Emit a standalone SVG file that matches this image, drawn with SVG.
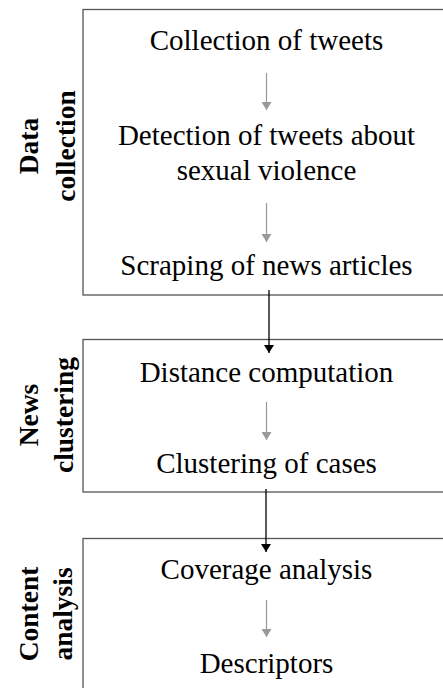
<svg xmlns="http://www.w3.org/2000/svg" width="443" height="688" viewBox="0 0 443 688">
<style>
.box{fill:#fff;stroke:#555;stroke-width:1.3}
.t{font-family:"Times New Roman","Liberation Serif","DejaVu Serif",serif;font-size:29px;font-weight:normal;fill:#000;text-anchor:middle}
.s{font-family:"Times New Roman","Liberation Serif","DejaVu Serif",serif;font-size:27.5px;font-weight:bold;fill:#000;text-anchor:middle}
.g{stroke:#999;stroke-width:1.2;fill:none}
.k{stroke:#000;stroke-width:1.3;fill:none}
</style>
<defs>
<marker id="ag" viewBox="0 0 8 10" refX="8" refY="5" markerWidth="8" markerHeight="10" markerUnits="userSpaceOnUse" orient="auto"><path d="M0,0 L8,5 L0,10 Z" fill="#999"/></marker>
<marker id="ak" viewBox="0 0 8 10" refX="8" refY="5" markerWidth="8" markerHeight="10" markerUnits="userSpaceOnUse" orient="auto"><path d="M0,0 L8,5 L0,10 Z" fill="#000"/></marker>
</defs>
<rect width="443" height="688" fill="#fff"/>
<g id="data-collection">
<rect class="box" x="83" y="9.5" width="380" height="285.5"/>
<text class="s" transform="translate(38,146) rotate(-90)">Data</text>
<text class="s" transform="translate(75,146) rotate(-90)">collection</text>
<text class="t" x="266.5" y="50">Collection of tweets</text>
<text class="t" x="266.5" y="145">Detection of tweets about</text>
<text class="t" x="266.5" y="180">sexual violence</text>
<text class="t" x="266.5" y="275">Scraping of news articles</text>
</g>
<g id="news-clustering">
<rect class="box" x="83" y="339.5" width="380" height="152.5"/>
<text class="s" transform="translate(38,415) rotate(-90)">News</text>
<text class="s" transform="translate(73,415) rotate(-90)">clustering</text>
<text class="t" x="266.5" y="382">Distance computation</text>
<text class="t" x="266.5" y="473">Clustering of cases</text>
</g>
<g id="content-analysis">
<rect class="box" x="83" y="538.5" width="380" height="170"/>
<text class="s" transform="translate(38,614) rotate(-90)">Content</text>
<text class="s" transform="translate(72,614) rotate(-90)">analysis</text>
<text class="t" x="266.5" y="579">Coverage analysis</text>
<text class="t" x="266.5" y="673">Descriptors</text>
</g>
<g id="connectors">
<line class="g" x1="266.5" y1="73" x2="266.5" y2="110" marker-end="url(#ag)"/>
<line class="g" x1="266.5" y1="203" x2="266.5" y2="242" marker-end="url(#ag)"/>
<line class="g" x1="266.5" y1="402" x2="266.5" y2="440" marker-end="url(#ag)"/>
<line class="g" x1="266.5" y1="600" x2="266.5" y2="637" marker-end="url(#ag)"/>
<line class="k" x1="269" y1="290" x2="269" y2="353" marker-end="url(#ak)"/>
<line class="k" x1="266" y1="489" x2="266" y2="552" marker-end="url(#ak)"/>
</g>
</svg>
